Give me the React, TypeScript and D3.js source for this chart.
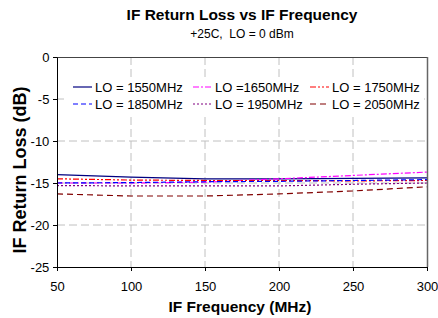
import React, { useEffect, useRef } from 'react';
import * as d3 from 'd3';

const freqs = [50, 100, 150, 200, 250, 300];
const lo1550 = [-14.0, -14.3, -14.5, -14.5, -14.45, -14.4];
const lo1650 = [-15.0, -15.0, -14.9, -14.5, -14.1, -13.7];
const lo1750 = [-14.5, -14.65, -14.7, -14.7, -14.75, -14.7];
const lo1850 = [-15.0, -14.95, -14.85, -14.8, -14.7, -14.6];
const lo1950 = [-15.3, -15.35, -15.35, -15.35, -15.15, -15.0];
const lo2050 = [-16.3, -16.55, -16.55, -16.3, -15.95, -15.45];

const legendLabels = ['LO = 1550MHz', 'LO =1650MHz', 'LO = 1750MHz', 'LO = 1850MHz', 'LO = 1950MHz', 'LO = 2050MHz'];
const xTicks = [50, 100, 150, 200, 250, 300];
const yTicks = [0, -5, -10, -15, -20, -25];

const seriesStyles = [
  { color: '#000080', dash: '' },
  { color: '#FF00FF', dash: '6,2,2,2' },
  { color: '#FF0000', dash: '6,2,2,2,2,2' },
  { color: '#0000FF', dash: '5,3' },
  { color: '#800080', dash: '2,2' },
  { color: '#800000', dash: '6,4' },
];

export default function App() {
  const svgRef = useRef<SVGSVGElement>(null);

  useEffect(() => {
    if (!svgRef.current) return;
    const svg = d3.select(svgRef.current);
    svg.selectAll('*').remove();

    const left = 57, right = 427, top = 57, bottom = 267;
    const x = d3.scaleLinear().domain([50, 300]).range([left, right]);
    const y = d3.scaleLinear().domain([-25, 0]).range([bottom, top]);
    const font = 'Arial, "Liberation Sans", sans-serif';

    svg.append('rect').attr('width', 438).attr('height', 318).attr('fill', 'white');

    // grid
    const grid = svg.append('g').attr('stroke', '#c0c0c0').attr('stroke-dasharray', '8,4');
    xTicks.slice(1, -1).forEach(t => {
      grid.append('line').attr('x1', x(t)).attr('x2', x(t)).attr('y1', top).attr('y2', bottom);
    });
    yTicks.slice(1, -1).forEach(t => {
      grid.append('line').attr('x1', left).attr('x2', right).attr('y1', y(t)).attr('y2', y(t));
    });

    // series
    const allSeries = [lo1550, lo1650, lo1750, lo1850, lo1950, lo2050];
    const line = d3.line<number>().x((d, i) => x(freqs[i])).y(d => y(d));
    allSeries.forEach((s, i) => {
      svg.append('path')
        .attr('d', line(s))
        .attr('fill', 'none')
        .attr('stroke', seriesStyles[i].color)
        .attr('stroke-width', 1.2)
        .attr('stroke-dasharray', seriesStyles[i].dash);
    });

    // frame
    svg.append('line').attr('x1', left).attr('x2', right).attr('y1', top + 0.5).attr('y2', top + 0.5).attr('stroke', '#444');
    svg.append('line').attr('x1', right + 0.5).attr('x2', right + 0.5).attr('y1', top).attr('y2', bottom).attr('stroke', '#666').attr('stroke-width', 1.5);

    // axes
    const fmt = (d: d3.NumberValue) => String(d);
    const xAxis = d3.axisBottom(x).tickValues(xTicks).tickSize(4).tickSizeOuter(0).tickFormat(fmt);
    const gx = svg.append('g').attr('transform', `translate(0,${bottom})`).call(xAxis);
    const yAxis = d3.axisLeft(y).tickValues(yTicks).tickSize(4).tickSizeOuter(0).tickFormat(fmt);
    const gy = svg.append('g').attr('transform', `translate(${left},0)`).call(yAxis);
    [gx, gy].forEach(g => {
      g.selectAll('path, line').attr('stroke', '#000');
      g.selectAll('text').attr('font-family', font).attr('font-size', 13).attr('fill', '#000');
    });
    gx.selectAll('text').attr('dy', '1.3em');
    gy.selectAll('text').attr('dx', '-0.05em');

    // legend
    const lg = svg.append('g');
    lg.append('rect').attr('x', 64).attr('y', 78).attr('width', 360).attr('height', 36).attr('fill', 'white');
    const colX = [73, 193, 310];
    const rowY = [87, 104];
    legendLabels.forEach((lab, i) => {
      const cx = colX[i % 3], cy = rowY[Math.floor(i / 3)];
      lg.append('line').attr('x1', cx).attr('x2', cx + 19).attr('y1', cy).attr('y2', cy)
        .attr('stroke', seriesStyles[i].color).attr('stroke-width', 1.2)
        .attr('stroke-dasharray', seriesStyles[i].dash);
      lg.append('text').attr('x', cx + 22).attr('y', cy + 4.5).text(lab)
        .attr('font-family', font).attr('font-size', 13);
    });

    // titles
    svg.append('text').attr('x', 242).attr('y', 20).attr('text-anchor', 'middle')
      .attr('font-family', font).attr('font-size', 15.5).attr('font-weight', 'bold').text('IF Return Loss vs IF Frequency');
    svg.append('text').attr('x', 242).attr('y', 38).attr('text-anchor', 'middle')
      .attr('font-family', font).attr('font-size', 12).style('white-space', 'pre').text('+25C,  LO = 0 dBm');
    svg.append('text').attr('x', 240).attr('y', 312).attr('text-anchor', 'middle')
      .attr('font-family', font).attr('font-size', 15.5).attr('font-weight', 'bold').text('IF Frequency (MHz)');
    svg.append('text').attr('transform', 'translate(26,170) rotate(-90)').attr('text-anchor', 'middle')
      .attr('font-family', font).attr('font-size', 18).attr('font-weight', 'bold').text('IF Return Loss (dB)');
  }, []);

  return (
    <svg ref={svgRef} width={438} height={318} style={{ position: 'absolute', left: 0, top: 0 }}></svg>
  );
}
